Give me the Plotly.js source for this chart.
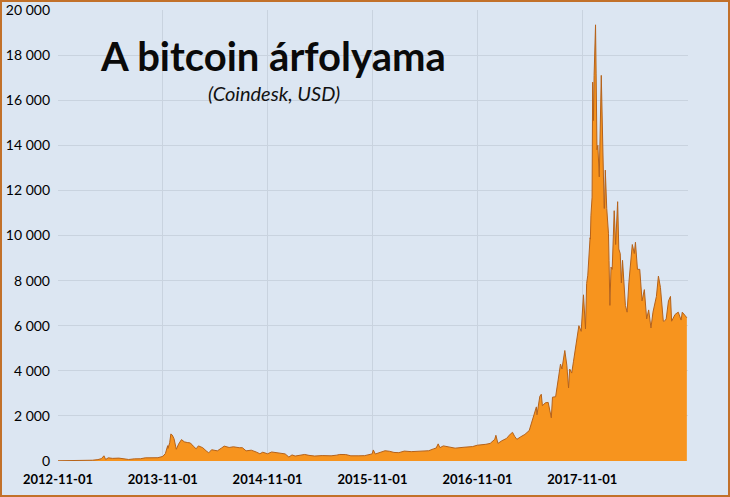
<!DOCTYPE html>
<html>
<head>
<meta charset="utf-8">
<script src="https://cdn.plot.ly/plotly-3.0.1.min.js"></script>
<style>
html,body{margin:0;padding:0;background:#dce6f2;}
#chart{width:730px;height:497px;}
</style>
</head>
<body>
<div id="chart"></div>
<script>
// Bitcoin price (Coindesk, USD)
const dates = [
"2012-11-01","2012-12-01","2013-01-01","2013-02-01","2013-03-01","2013-03-20","2013-04-01","2013-04-10","2013-04-16","2013-04-25",
"2013-05-10","2013-06-01","2013-06-20","2013-07-05","2013-07-25","2013-08-15","2013-09-01","2013-10-01","2013-10-15","2013-11-01",
"2013-11-10","2013-11-18","2013-11-19","2013-11-25","2013-11-29","2013-12-04","2013-12-10","2013-12-18","2013-12-26","2014-01-05",
"2014-01-15","2014-01-25","2014-02-05","2014-02-15","2014-02-25","2014-03-05","2014-03-20","2014-04-01","2014-04-10","2014-04-20",
"2014-05-10","2014-05-25","2014-06-03","2014-06-20","2014-07-05","2014-07-25","2014-08-05","2014-08-18","2014-09-05","2014-09-22",
"2014-10-05","2014-10-15","2014-11-01","2014-11-15","2014-12-01","2014-12-15","2015-01-01","2015-01-14","2015-01-25","2015-02-05",
"2015-02-20","2015-03-10","2015-03-25","2015-04-14","2015-05-10","2015-06-10","2015-06-30","2015-07-10","2015-07-31","2015-08-18",
"2015-09-15","2015-10-05","2015-10-31","2015-11-04","2015-11-11","2015-11-25","2015-12-15","2015-12-31","2016-01-15","2016-02-01",
"2016-02-20","2016-03-15","2016-04-15","2016-05-15","2016-05-31","2016-06-10","2016-06-17","2016-06-23","2016-07-05","2016-07-31",
"2016-08-15","2016-09-15","2016-10-15","2016-10-31","2016-11-15","2016-11-30","2016-12-15","2016-12-31","2017-01-04","2017-01-11",
"2017-01-25","2017-02-10","2017-02-23","2017-03-03","2017-03-10","2017-03-18","2017-03-31","2017-04-15","2017-04-30","2017-05-10",
"2017-05-25","2017-05-27","2017-06-06","2017-06-11","2017-06-15","2017-06-25","2017-07-05","2017-07-16","2017-07-20","2017-07-31",
"2017-08-05","2017-08-12","2017-08-17","2017-08-22","2017-09-01","2017-09-08","2017-09-14","2017-09-18","2017-09-25","2017-10-01",
"2017-10-12","2017-10-20","2017-10-28","2017-11-05","2017-11-12","2017-11-16","2017-11-20","2017-11-26","2017-11-28","2017-11-29",
"2017-12-01","2017-12-05","2017-12-07","2017-12-08","2017-12-10","2017-12-12","2017-12-17","2017-12-19","2017-12-22","2017-12-25",
"2017-12-30","2018-01-06","2018-01-09","2018-01-12","2018-01-16","2018-01-17","2018-01-20","2018-01-25","2018-01-31","2018-02-02",
"2018-02-05","2018-02-09","2018-02-13","2018-02-20","2018-02-25","2018-03-04","2018-03-08","2018-03-13","2018-03-17","2018-03-21",
"2018-03-31","2018-04-06","2018-04-12","2018-04-24","2018-05-01","2018-05-05","2018-05-12","2018-05-20","2018-05-28","2018-06-05",
"2018-06-13","2018-06-20","2018-06-28","2018-07-05","2018-07-17","2018-07-24","2018-07-31","2018-08-10","2018-08-14","2018-08-20",
"2018-08-28","2018-09-04","2018-09-08","2018-09-20","2018-10-01","2018-10-11","2018-10-15","2018-10-25","2018-10-31"
];
const prices = [
10.6,12.6,13.3,20.4,34,62,104,230,68,140,
117,128,110,68,95,100,140,128,145,205,
330,680,560,810,1200,1150,990,520,750,950,
850,820,800,660,540,670,590,450,360,500,
450,580,660,600,630,590,590,450,480,400,
320,390,320,400,370,350,315,175,270,220,
245,290,250,220,240,230,260,290,285,230,
230,238,315,490,310,360,455,430,380,370,
440,415,430,455,535,575,760,590,670,625,
570,610,640,700,710,740,780,960,1140,780,
900,1000,1190,1270,1100,960,1070,1180,1350,1760,
2400,2050,2870,2960,2450,2580,2600,1915,2830,2850,
3250,3850,4300,4080,4900,4250,3240,4080,3900,4400,
5430,6000,5750,7370,5860,7870,8240,9330,9900,9840,
10900,11700,16800,16000,15100,17100,19343,17200,13800,14000,
12600,17100,14800,13800,11200,11200,12900,11200,10100,8900,
6900,8600,8500,11100,9600,11500,9400,9200,7900,8900,
6900,6600,7900,9600,9200,9700,8500,8500,7100,7600,
6300,6700,5900,6600,7300,8200,7700,6200,6200,6300,
7100,7300,6200,6500,6600,6250,6600,6450,6350
];
const xTickVals = ["2012-11-01","2013-11-01","2014-11-01","2015-11-01","2016-11-01","2017-11-01"];
const yTickVals = [0,2000,4000,6000,8000,10000,12000,14000,16000,18000,20000];
const yTickText = ["0","2 000","4 000","6 000","8 000","10 000","12 000","14 000","16 000","18 000","20 000"];
const titleText = "A bitcoin árfolyama";
const subtitleText = "(Coindesk, USD)";

const L=58, R=42, T=10, B=36, W=730, H=497;
const pw = W-L-R, ph = H-T-B;

const trace = {
  x: dates, y: prices, type: 'scatter', mode: 'lines',
  fill: 'tozeroy', fillcolor: '#f7941e',
  line: {color: '#b5621a', width: 1},
  hoverinfo: 'x+y'
};

const layout = {
  width: W, height: H,
  margin: {l: L, r: R, t: T, b: B, pad: 0},
  paper_bgcolor: '#dce6f2', plot_bgcolor: '#dce6f2',
  showlegend: false,
  font: {family: 'Lato, "Open Sans", sans-serif', color: '#000'},
  xaxis: {
    type: 'date', range: ['2012-11-01', '2018-11-04'],
    tickvals: xTickVals, ticktext: xTickVals,
    tickfont: {size: 13, family: 'Lato, sans-serif', weight: 'bold', color: '#000'},
    showgrid: true, gridcolor: '#c9d3df', gridwidth: 1,
    zeroline: false, showline: false, ticks: '', ticklabelstandoff: 9
  },
  yaxis: {
    range: [0, 20000], tickvals: yTickVals, ticktext: yTickText,
    tickfont: {size: 14, family: 'Lato, sans-serif', color: '#000'},
    showgrid: true, gridcolor: '#c9d3df', gridwidth: 1,
    zeroline: false, showline: false, ticks: '', ticklabelstandoff: 7
  },
  annotations: [
    {text: '<b>' + titleText + '</b>', xref: 'paper', yref: 'paper',
     x: (273-L)/pw, y: 1-(56-T)/ph, xanchor: 'center', yanchor: 'middle', showarrow: false,
     font: {size: 40, family: 'Lato, "Open Sans", sans-serif', color: '#0a0a0a'}},
    {text: '<i>' + subtitleText + '</i>', xref: 'paper', yref: 'paper',
     x: (274-L)/pw, y: 1-(93-T)/ph, xanchor: 'center', yanchor: 'middle', showarrow: false,
     font: {size: 20, family: 'Lato, "Open Sans", sans-serif', color: '#111'}}
  ],
  shapes: [
    {type: 'rect', xref: 'paper', yref: 'paper', layer: 'above',
     x0: -(L-1)/pw, x1: 1+(R-1)/pw, y0: -(B-1)/ph, y1: 1+(T-1)/ph,
     line: {color: '#c2712a', width: 2}, fillcolor: 'rgba(0,0,0,0)'}
  ]
};

Plotly.newPlot('chart', [trace], layout, {displayModeBar: false, staticPlot: true});
</script>
</body>
</html>
